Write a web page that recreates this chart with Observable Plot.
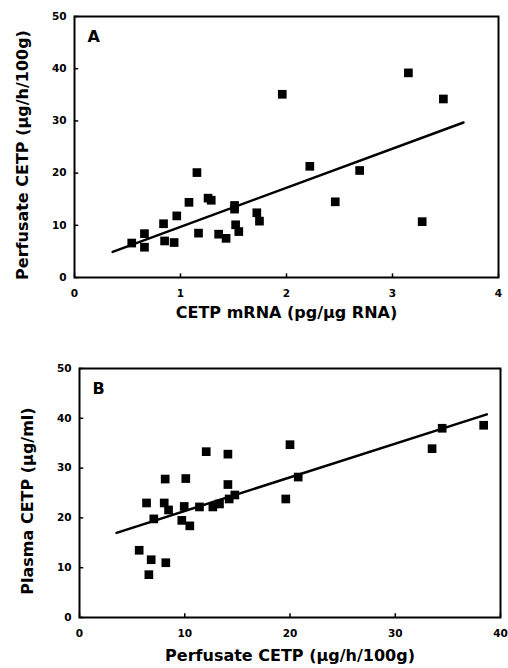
<!DOCTYPE html>
<html>
<head>
<meta charset="utf-8">
<script src="https://cdn.jsdelivr.net/npm/d3@7"></script>
<script src="https://cdn.jsdelivr.net/npm/@observablehq/plot@0.6"></script>
<style>
  html, body { margin: 0; padding: 0; background: #fff; }
  #chart svg { display: block; }
</style>
</head>
<body>
<div id="chart"></div>
<script>
// Panel A: CETP mRNA vs perfusate CETP
const aX = [0.54, 0.66, 0.66, 0.84, 0.85, 0.94, 0.965, 1.08, 1.155, 1.17, 1.26, 1.29, 1.36, 1.43, 1.51, 1.51, 1.52, 1.55, 1.72, 1.745, 1.96, 2.22, 2.46, 2.69, 3.15, 3.28, 3.48];
const aY = [6.6, 8.4, 5.8, 10.3, 7.0, 6.7, 11.8, 14.4, 20.1, 8.5, 15.2, 14.8, 8.3, 7.5, 13.8, 13.1, 10.1, 8.8, 12.4, 10.8, 35.1, 21.3, 14.5, 20.5, 39.2, 10.7, 34.2];
const aLineX = [0.36, 3.67];
const aLineY = [4.9, 29.7];
const aTicksX = [0, 1, 2, 3, 4];
const aTicksY = [0, 10, 20, 30, 40, 50];

// Panel B: perfusate CETP vs plasma CETP
const bX = [5.67, 6.37, 6.81, 6.59, 7.06, 8.05, 8.14, 8.2, 8.46, 9.72, 9.95, 10.1, 10.48, 11.4, 12.04, 12.67, 13.3, 14.1, 14.1, 14.22, 14.76, 19.6, 20.0, 20.78, 33.5, 34.46, 38.4];
const bY = [13.5, 23.0, 11.6, 8.6, 19.8, 23.0, 27.8, 11.0, 21.6, 19.5, 22.3, 27.9, 18.4, 22.2, 33.3, 22.2, 22.8, 32.8, 26.7, 23.8, 24.6, 23.8, 34.7, 28.2, 33.9, 38.0, 38.6];
const bLineX = [3.52, 38.7];
const bLineY = [17.0, 40.8];
const bTicksX = [0, 10, 20, 30, 40];
const bTicksY = [0, 10, 20, 30, 40, 50];

const FONT = "'DejaVu Sans', 'Liberation Sans', Arial, sans-serif";

function panel({xs, ys, lx, ly, tx, ty, xDomain, xLabel, yLabel, letter, height, margins, tickXLen, tickYLen, xLabelDy, yLabelDy}) {
  const pts = xs.map((x, i) => ({x, y: ys[i]}));
  const line = lx.map((x, i) => ({x, y: ly[i]}));
  return Plot.plot({
    width: 508,
    height,
    ...margins,
    style: {fontFamily: FONT, fontWeight: "bold", fontSize: "10.5px", color: "#000", background: "#fff"},
    x: {domain: xDomain, ticks: tx},
    y: {domain: [0, 50], ticks: ty},
    marks: [
      Plot.frame({stroke: "#000", strokeWidth: 2}),
      Plot.ruleX(tx, {x: d => d, y1: 0, y2: 50 * tickXLen, stroke: "#000", strokeWidth: 1.5}),
      Plot.ruleY(ty, {y: d => d, x1: xDomain[0], x2: xDomain[1] * tickYLen, stroke: "#000", strokeWidth: 1.5}),
      Plot.axisX(tx, {tickSize: 0, tickPadding: 12, label: null, fontSize: 10.5, fontWeight: "bold"}),
      Plot.axisY(ty, {tickSize: 0, tickPadding: 8, label: null, fontSize: 10.5, fontWeight: "bold"}),
      Plot.text([xLabel], {frameAnchor: "bottom", dy: xLabelDy, text: d => d, fontSize: 16, fontWeight: "bold", textAnchor: "middle", lineAnchor: "middle"}),
      Plot.text([yLabel], {frameAnchor: "left", dx: -52, dy: yLabelDy, rotate: -90, text: d => d, fontSize: 16, fontWeight: "bold", textAnchor: "middle", lineAnchor: "middle"}),
      Plot.line(line, {x: "x", y: "y", stroke: "#000", strokeWidth: 2.5}),
      Plot.dot(pts, {x: "x", y: "y", symbol: "square", r: 4.9, fill: "#000", stroke: "none"}),
      Plot.text([letter], {frameAnchor: "top-left", dx: 13, dy: 14, text: d => d, fontSize: 16, fontWeight: "bold", textAnchor: "start", lineAnchor: "top"})
    ]
  });
}

const chartA = panel({
  xs: aX, ys: aY, lx: aLineX, ly: aLineY, tx: aTicksX, ty: aTicksY,
  xDomain: [0, 4], xLabel: "CETP mRNA (pg/µg RNA)", yLabel: "Perfusate CETP (µg/h/100g)",
  letter: "A", height: 330,
  margins: {marginLeft: 74, marginRight: 10, marginTop: 16, marginBottom: 53},
  tickXLen: 0.014, tickYLen: 0.01, xLabelDy: 35, yLabelDy: 8
});
const chartB = panel({
  xs: bX, ys: bY, lx: bLineX, ly: bLineY, tx: bTicksX, ty: bTicksY,
  xDomain: [0, 40], xLabel: "Perfusate CETP (µg/h/100g)", yLabel: "Plasma CETP (µg/ml)",
  letter: "B", height: 338,
  margins: {marginLeft: 79, marginRight: 8, marginTop: 38, marginBottom: 51},
  tickXLen: 0.015, tickYLen: 0.01, xLabelDy: 38, yLabelDy: 8
});

document.getElementById("chart").append(chartA, chartB);
</script>
</body>
</html>
